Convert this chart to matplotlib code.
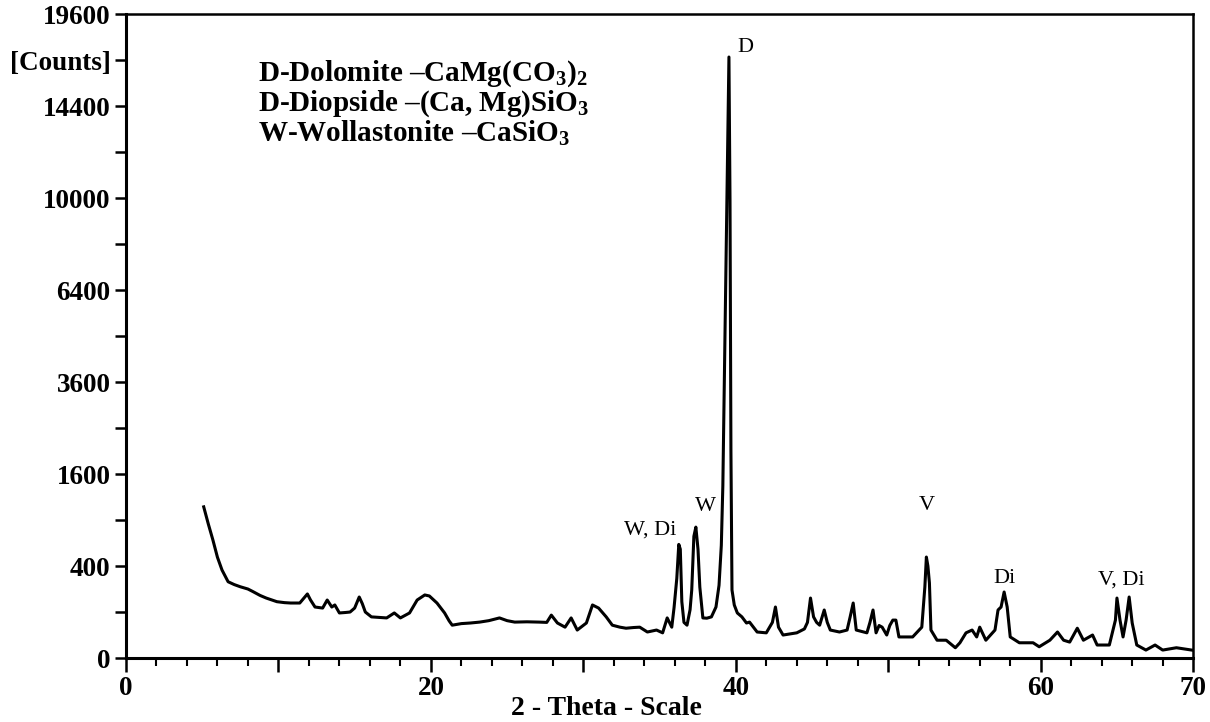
import numpy as np
import matplotlib
matplotlib.use("Agg")
import matplotlib.pyplot as plt

# XRD pattern: 2-theta (deg) vs counts
two_theta = [
    5.1, 5.4, 5.7, 6.0, 6.3, 6.7, 7.1, 7.5, 8.0, 8.3, 8.8, 9.2, 9.9, 10.4, 10.8,
    11.4, 11.9, 12.1, 12.4, 12.9, 13.2, 13.5, 13.7, 14.0, 14.4, 14.7, 15.0, 15.3,
    15.5, 15.7, 16.1, 16.6, 17.1, 17.6, 18.0, 18.6, 19.1, 19.6, 19.9, 20.4, 20.9,
    21.2, 21.4, 22.0, 22.6, 23.2, 23.8, 24.5, 25.0, 25.5, 26.3, 27.1, 27.6, 27.9,
    28.3, 28.8, 29.2, 29.6, 30.2, 30.6, 31.0, 31.5, 31.9, 32.4, 32.8, 33.3, 33.7,
    34.2, 34.8, 35.2, 35.5, 35.8, 35.95, 36.13, 36.26, 36.36, 36.46, 36.6, 36.8,
    37.0, 37.11, 37.25, 37.38, 37.52, 37.64, 37.84, 38.1, 38.4, 38.7, 38.9, 39.05,
    39.15, 39.25, 39.35, 39.45, 39.55, 39.62, 39.68, 39.75, 39.9, 40.1, 40.4, 40.7,
    40.9, 41.4, 42.0, 42.4, 42.6, 42.8, 43.1, 44.0, 44.5, 44.7, 44.9, 45.1, 45.3,
    45.5, 45.8, 46.0, 46.2, 46.8, 47.3, 47.5, 47.7, 47.9, 48.6, 48.8, 49.0, 49.2,
    49.4, 49.6, 49.9, 50.1, 50.3, 50.5, 50.7, 51.6, 52.2, 52.4, 52.5, 52.6, 52.7,
    52.8, 53.2, 53.8, 54.4, 54.7, 55.1, 55.5, 55.8, 56.0, 56.4, 57.0, 57.2, 57.4,
    57.6, 57.8, 58.0, 58.6, 59.5, 59.9, 60.6, 61.1, 61.5, 61.9, 62.4, 62.8, 63.4,
    63.7, 64.5, 64.9, 65.0, 65.2, 65.4, 65.6, 65.8, 66.0, 66.3, 66.9, 67.5, 68.0,
    68.9, 69.9,
]
counts = [
    1080, 850, 660, 480, 366, 275, 255, 240, 225, 210, 185, 170, 150, 145, 143,
    143, 194, 160, 123, 118, 159, 123, 133, 96, 98, 100, 118, 176,
    140, 100, 80, 78, 76, 96, 76, 96, 159, 188, 182, 143, 96,
    65, 51, 56, 58, 61, 66, 76, 66, 61, 62, 61, 60, 87,
    58, 45, 76, 37, 58, 133, 118, 80, 51, 45, 42, 44, 45,
    32, 37, 30, 76, 45, 120, 300, 610, 560, 150, 60, 51,
    110, 219, 700, 810, 560, 238, 76, 75, 80, 123, 250, 600,
    1400, 3680, 7080, 11500, 17070, 9900, 2040, 219, 133, 96, 80, 58,
    61, 32, 30, 60, 123, 45, 25, 30, 40, 60, 170, 80, 60,
    51, 109, 60, 37, 32, 37, 80, 143, 37, 30, 60, 109, 30,
    50, 45, 25, 50, 68, 68, 21, 21, 45, 238, 482, 400, 266,
    37, 15, 15, 5, 11, 30, 37, 21, 45, 15, 37, 109, 123,
    206, 123, 21, 11, 11, 6, 15, 32, 15, 12, 42, 15, 25,
    8, 8, 68, 170, 68, 21, 68, 176, 58, 8, 3, 8, 3,
    5, 3,
]

peak_labels = ["W, Di", "W", "D", "V", "Di", "V, Di"]
peak_label_x = [34.4, 38.0, 40.6, 52.5, 57.6, 65.3]
peak_label_y = [770, 1080, 17640, 1100, 300, 288]

phases = [
    r"D-Dolomite –CaMg(CO$_\mathregular{3}$)$_\mathregular{2}$",
    r"D-Diopside –(Ca, Mg)SiO$_\mathregular{3}$",
    r"W-Wollastonite –CaSiO$_\mathregular{3}$",
]

y_major = [0, 400, 1600, 3600, 6400, 10000, 14400, 19600]
y_minor = [100, 900, 2500, 4900, 8100, 12100, 16900]
x_labels = [0, 20, 40, 60, 70]

plt.rcParams['font.family'] = ['Liberation Serif', 'DejaVu Serif']
plt.rcParams['mathtext.fontset'] = 'custom'
plt.rcParams['mathtext.rm'] = 'Liberation Serif:bold'

fig = plt.figure(figsize=(12.1, 7.22), dpi=100)
ax = fig.add_axes([0.1041, 0.0886, 0.8820, 0.8920])

ax.plot(two_theta, counts, color='black', lw=2.2, solid_joinstyle='round')

ax.set_yscale('function', functions=(lambda v: np.sqrt(np.clip(v, 0, None)), np.square))
ax.set_xlim(0, 70)
ax.set_ylim(0, 19600)

# y ticks: labelled majors, plus "[Counts]" at one of the unlabelled ticks
yt = sorted(y_major + y_minor)
ylab = [str(v) if v in y_major else "" for v in yt]
ylab[yt.index(16900)] = "[Counts]"
ax.set_yticks(yt)
ax.set_yticklabels(ylab)
ax.yaxis.set_minor_locator(matplotlib.ticker.NullLocator())

ax.set_xticks(range(0, 71, 10))
ax.set_xticklabels([str(v) if v in x_labels else "" for v in range(0, 71, 10)])
ax.set_xticks(range(0, 71, 2), minor=True)

ax.tick_params(axis='y', direction='out', length=8, width=1.8, pad=3,
               labelsize=19.5)
ax.tick_params(axis='x', which='major', direction='out', length=10, width=1.8,
               pad=3, labelsize=19.5)
ax.tick_params(axis='x', which='minor', direction='out', length=6, width=1.5)
for lab in ax.get_xticklabels() + ax.get_yticklabels():
    lab.set_fontweight('bold')

for side in ['left', 'bottom']:
    ax.spines[side].set_linewidth(2.2)
for side in ['top', 'right']:
    ax.spines[side].set_linewidth(1.8)

ax.set_xlabel("2 - Theta - Scale", fontsize=20, fontweight='bold', va='center')
ax.xaxis.set_label_coords(0.45, -0.078)

for txt, px, py in zip(peak_labels, peak_label_x, peak_label_y):
    ax.text(px, py, txt, fontsize=16, ha='center', va='center')

for i, txt in enumerate(phases):
    ax.text(0.1237, 0.908 - i * 0.0466, txt, transform=ax.transAxes,
            fontsize=21, fontweight='bold', ha='left', va='center')

fig.savefig("out.png", dpi=100)
